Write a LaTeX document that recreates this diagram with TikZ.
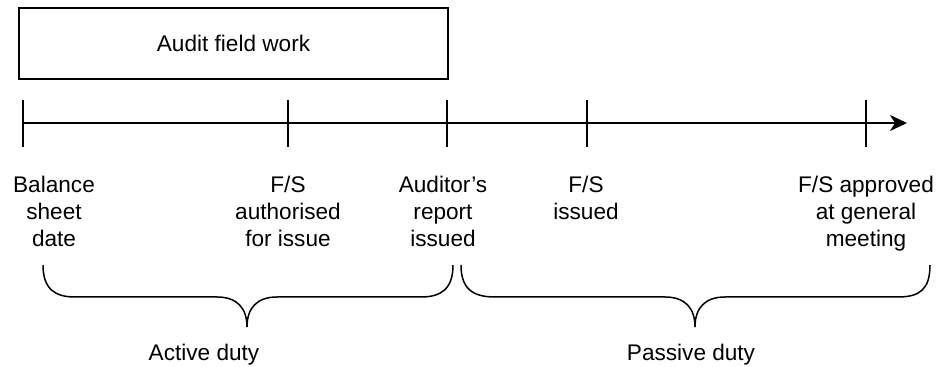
\documentclass[tikz,border=0pt]{standalone}
\usepackage{fontspec}
\setmainfont{Liberation Sans}
\usetikzlibrary{arrows.meta,positioning}

\tikzset{
  datetext/.style={align=center, anchor=base, inner sep=0pt,
    font=\fontsize{11.3}{13.7}\selectfont},
  worktext/.style={draw, line width=0.75pt, minimum width=214.5pt,
    minimum height=35.5pt, font=\fontsize{11.3}{13.7}\selectfont},
  tickline/.style={line width=0.8pt},
  bracepath/.style={line width=0.75pt}
}

\begin{document}
\begin{tikzpicture}[x=0.5pt, y=-0.5pt]
\useasboundingbox (0,0) rectangle (936,367);

% field work box
\node[worktext] (work) at (233.5,43.5) {Audit field work};

% time line
\coordinate (start) at (23,123);
\coordinate (end) at (907,123);
\draw[tickline, -{Stealth[length=8.5pt, width=8pt, inset=2.5pt]}] (start) -- (end);
\foreach \x in {23,288,447,587,866}
  \draw[tickline] (\x,100) -- (\x,147);

% dates (base = last line)
\node[datetext] (bsd) at (54,247) {Balance\\sheet\\date};
\node[datetext] (auth) at (288,247) {F/S\\authorised\\for issue};
\node[datetext] (rep) at (443,247) {Auditor’s\\report\\issued};
\node[datetext] (iss) at (586,219.5) {F/S\\issued};
\node[datetext] (agm) at (866,247) {F/S approved\\at general\\meeting};

% braces
\draw[bracepath] (43,265) .. controls (43,289) and (55,297) .. (75,297)
  -- (217,297) .. controls (237,297) and (247,308) .. (247,327)
  .. controls (247,308) and (257,297) .. (277,297)
  -- (421,297) .. controls (441,297) and (453,289) .. (453,265);
\draw[bracepath] (461,265) .. controls (461,289) and (473,297) .. (495,297)
  -- (665,297) .. controls (685,297) and (695,308) .. (695,327)
  .. controls (695,308) and (705,297) .. (725,297)
  -- (898,297) .. controls (920,297) and (930,289) .. (930,265);

\node[datetext] (active) at (204,361) {Active duty};
\node[datetext] (passive) at (691,361) {Passive duty};
\end{tikzpicture}
\end{document}
